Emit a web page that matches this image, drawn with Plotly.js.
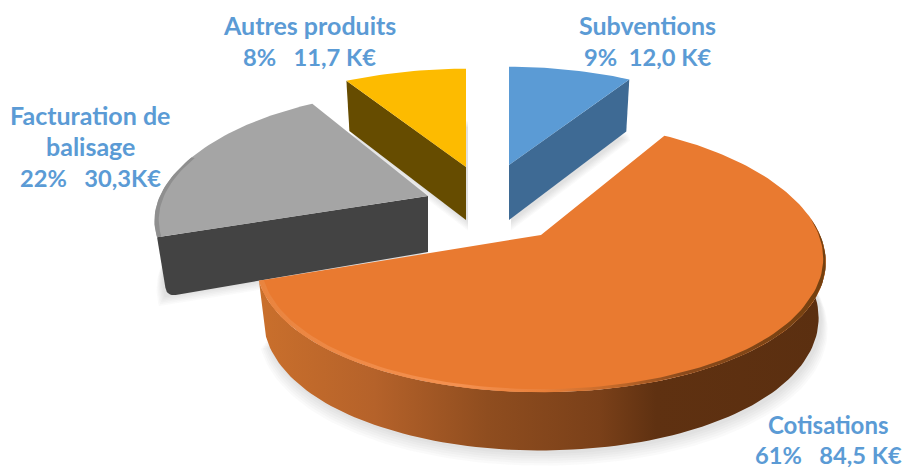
<!DOCTYPE html>
<html><head><meta charset="utf-8">
<script src="https://cdn.plot.ly/plotly-3.0.1.min.js"></script>
<style>html,body{margin:0;padding:0;background:#fff}</style></head>
<body><div id="chart" style="width:905px;height:468px"></div>
<script>
// Data, in drawing order clockwise from 12 o'clock
const names = ["Subventions", "Cotisations", "Facturation de balisage", "Autres produits"];
const amounts = [12.0, 84.5, 30.3, 11.7];
const percents = [9, 61, 22, 8];
const labelLines = [
  ["Subventions", "9%\u00a0\u00a012,0 K€"],
  ["Cotisations", "61%\u00a0\u00a0\u00a084,5 K€"],
  ["Facturation de", "balisage", "22%\u00a0\u00a0\u00a030,3K€"],
  ["Autres produits", "8%\u00a0\u00a0\u00a011,7 K€"]
];
// Style
const topColors = ["#5b9bd5", "#e97a30", "#a5a5a5", "#fdbb00"];
const faceColors = ["#3e6a94", "#000000", "#434343", "#664c00"];
const labelColor = "#5b9bd5";
const labelPos = [[647, [25, 57]], [828, [424, 455]], [90, [115, 146, 178]], [309, [25, 57]]];
const labelSizes = [[25, 23.7], [24, 23.7], [25, 25, 23.7], [25, 23.7]];
// Exploded-pie projection per slice: apex position and radii on screen
const geom = [
  {ax: 509, ay: 165, R: 272, k: 112, h: 55, a: 0.14},
  {ax: 541, ay: 235, R: 279, k: 132, h: 55, a: 0.16},
  {ax: 428, ay: 196, R: 268, k: 120, h: 56, a: 0.14},
  {ax: 466, ay: 167, R: 277, k: 112, h: 53, a: 0.14}
];
const DEG = Math.PI / 180;
const total = amounts.reduce((a, b) => a + b, 0);
let acc = 0;
const spans = amounts.map(v => { const s = acc; acc += v; return [s / total * 360, acc / total * 360]; });

function proj(g, theta, rf, depth) {
  const Y = Math.cos(theta * DEG) * rf, X = Math.sin(theta * DEG) * rf;
  let x = g.R * X / (1 + 0.2 * Y);
  let y = -g.k * Y / (1 + g.a * Y);
  x *= 1 - 0.025 * depth;
  y += depth * g.h * (1 - 0.06 * Y);
  return [g.ax + x, g.ay + y];
}
function arc(g, a, b, rf, depth) {
  const pts = [], n = Math.max(4, Math.ceil(Math.abs(b - a) / 1.5));
  for (let i = 0; i <= n; i++) pts.push(proj(g, a + (b - a) * i / n, rf, depth));
  return pts;
}
function poly(pts, color, extra) {
  return Object.assign({
    type: "scatter", mode: "lines", x: pts.map(p => p[0]).concat(pts[0][0]), y: pts.map(p => p[1]).concat(pts[0][1]),
    fill: "toself", fillcolor: color, line: {width: 0, color: color}, hoverinfo: "skip", showlegend: false
  }, extra || {});
}
function shadow(g, span, dx, dy) {
  const out = [];
  for (let i = 1; i <= 6; i++) {
    const pts = [proj(g, 0, 0, 1)].concat(arc(g, span[0], span[1], 1 + 0.004 * (7 - i), 1)).map(p => [p[0] + dx, p[1] + dy + (7 - i) * 1.6]);
    out.push(poly(pts, "rgba(90,90,90,0.03)"));
  }
  return out;
}
// Rounds the corner at b between neighbours a and c
function rounded(a, b, c, r) {
  const ua = Math.hypot(a[0] - b[0], a[1] - b[1]), uc = Math.hypot(c[0] - b[0], c[1] - b[1]);
  const p0 = [b[0] + (a[0] - b[0]) * r / ua, b[1] + (a[1] - b[1]) * r / ua];
  const p2 = [b[0] + (c[0] - b[0]) * r / uc, b[1] + (c[1] - b[1]) * r / uc];
  const pts = [];
  for (let t = 0; t <= 8; t++) {
    const s = t / 8;
    pts.push([(1 - s) * (1 - s) * p0[0] + 2 * s * (1 - s) * b[0] + s * s * p2[0],
              (1 - s) * (1 - s) * p0[1] + 2 * s * (1 - s) * b[1] + s * s * p2[1]]);
  }
  return pts;
}
function wedge(i) {
  const g = geom[i], s = spans[i], out = [];
  out.push(...shadow(g, s, 2, 1));
  if (i === 1) {
    const sideA = 88, sideB = s[1];
    const grad = {type: "horizontal", start: 262, stop: 825,
      colorscale: [[0, "#c96f2c"], [0.2, "#b5622a"], [0.4, "#8f4d1f"], [0.6, "#7a4019"], [0.7, "#5f3111"], [1, "#5b2f10"]]};
    const side = arc(g, sideA, sideB, 1, 0).concat(arc(g, sideB, sideA, 1, 1));
    out.push(poly(side, "#a0561f", {fillgradient: grad}));
  } else if (i === 2) {
    const a = s[0], A = proj(g, a, 0, 0), B = proj(g, a, 1, 0), C = proj(g, a, 1, 1), D = proj(g, a, 0, 1);
    C[0] += 3; C[1] += 2;
    const face = [A, B].concat(rounded(B, C, D, 9), [D]);
    out.push(poly(face, faceColors[i]));
  } else {
    const a = i === 0 ? s[1] : s[0];
    const face = [proj(g, a, 0, 0), proj(g, a, 1, 0), proj(g, a, 1, 1), proj(g, a, 0, 1)];
    out.push(poly(face, faceColors[i]));
  }
  out.push(poly([proj(g, 0, 0, 0)].concat(arc(g, s[0], s[1], 1, 0)), topColors[i]));
  if (i === 1) {
    // bevel highlight along the rim, tapering in from the right
    const grad = {type: "horizontal", start: 262, stop: 825,
      colorscale: [[0, "#e9843f"], [0.35, "#f59150"], [0.5, "#e9803a"], [0.62, "#c56a2a"], [0.75, "#8a4a1c"], [1, "#74400f"]]};
    const a0 = 80, n = 110, outer = [], inner = [];
    for (let t = 0; t <= n; t++) {
      const th = a0 + (s[1] - a0) * t / n;
      outer.push(proj(g, th, 1, 0));
      inner.push(proj(g, th, 1 - 0.016 * Math.min(1, t / 25), 0));
    }
    out.push(poly(outer.concat(inner.reverse()), "#e9803a", {fillgradient: grad}));
  }
  if (i === 2) {
    const rim = arc(g, s[0], s[1] - 40, 1, 0).concat(arc(g, s[1] - 40, s[0], 0.985, 0));
    out.push(poly(rim, "#8f8f8f"));
  }
  return out;
}
const traces = [...wedge(3), ...wedge(0), ...wedge(2), ...wedge(1)];
const annotations = [];
labelLines.forEach((lines, i) => lines.forEach((t, j) => annotations.push({
  xref: "x", yref: "y", x: labelPos[i][0], y: labelPos[i][1][j], text: t, showarrow: false,
  xanchor: "center", yanchor: "middle", font: {family: "Lato, 'Open Sans', sans-serif", size: labelSizes[i][j], color: labelColor, weight: 700}
})));
Plotly.newPlot("chart", traces, {
  width: 905, height: 468, margin: {l: 0, r: 0, t: 0, b: 0}, paper_bgcolor: "#fff", plot_bgcolor: "#fff", showlegend: false,
  xaxis: {range: [0, 905], visible: false, fixedrange: true},
  yaxis: {range: [468, 0], visible: false, fixedrange: true},
  annotations
}, {displayModeBar: false, staticPlot: true});
</script></body></html>
